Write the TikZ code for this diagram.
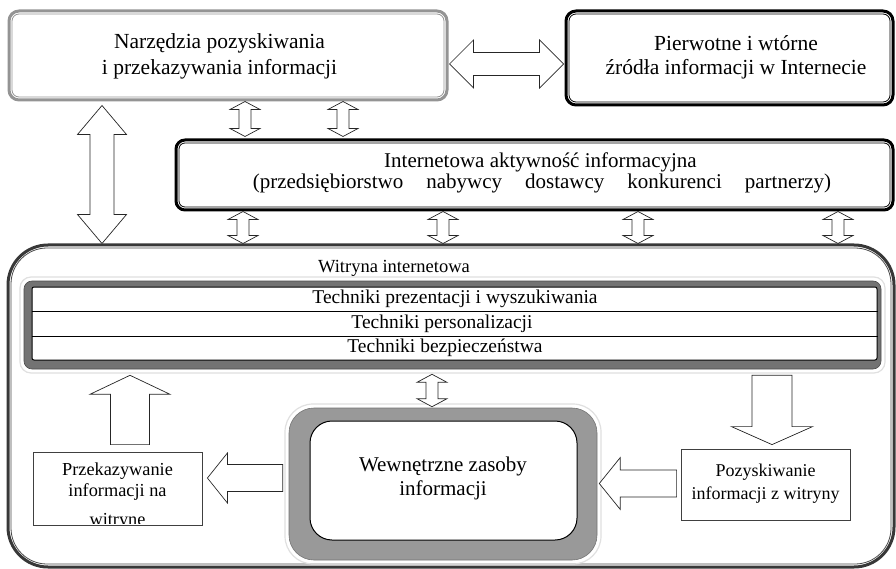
\documentclass[tikz,border=0pt]{standalone}
\usepackage{fontspec}
\setmainfont{Liberation Serif}
\usetikzlibrary{calc}
\newcommand\fs[2]{\fontsize{#1}{#2}\selectfont}
% vertical double block arrow: #1 head half-width, #2 shaft half-width, #3 head length, #4 top tip, #5 bottom tip
\newcommand\vda[5]{\draw[blockarrow] let \p1=#4, \p2=#5 in
  (\x1,\y1) -- (\x1+#1,\y1-#3) -- (\x1+#2,\y1-#3) -- (\x1+#2,\y2+#3) -- (\x1+#1,\y2+#3) -- (\x1,\y2)
  -- (\x1-#1,\y2+#3) -- (\x1-#2,\y2+#3) -- (\x1-#2,\y1-#3) -- (\x1-#1,\y1-#3) -- cycle;}
% horizontal double block arrow: #4 left tip, #5 right tip
\newcommand\hda[5]{\draw[blockarrow] let \p1=#4, \p2=#5 in
  (\x1,\y1) -- (\x1+#3,\y1+#1) -- (\x1+#3,\y1+#2) -- (\x2-#3,\y1+#2) -- (\x2-#3,\y1+#1) -- (\x2,\y1)
  -- (\x2-#3,\y1-#1) -- (\x2-#3,\y1-#2) -- (\x1+#3,\y1-#2) -- (\x1+#3,\y1-#1) -- cycle;}
\begin{document}
\begin{tikzpicture}[x=1pt,y=-1pt,
  blockarrow/.style={draw=black!85,line width=0.7pt,fill=white,line join=miter},
  outerG/.style={draw=black!42,line width=3pt,rounded corners=10pt},
  outerK/.style={draw=black,line width=3pt,rounded corners=10pt},
  outerW/.style={draw=black!78,line width=3pt,rounded corners=40pt},
  thin/.style={line width=0.8pt},
  plainbox/.style={draw=black!75,line width=0.8pt,fill=white},
  txt/.style={align=center,inner sep=0pt}]
\useasboundingbox (0,0) rectangle (896,569);
\fill[white] (0,0) rectangle (896,569);

% ---- top boxes
\node[outerG,minimum width=438pt,minimum height=89pt] (box1) at (228,55.5) {};
\draw[thin,draw=black!42,rounded corners=7pt] ([shift={(4.5,4.5)}]box1.north west) rectangle ([shift={(-4.5,-4.5)}]box1.south east);
\node[txt,font=\fs{21.5}{26.5}] (t1) at (219.5,56.5) {Narzędzia pozyskiwania\\i przekazywania informacji};

\node[outerK,minimum width=327pt,minimum height=94pt] (box2) at (729.5,58) {};
\draw[thin,rounded corners=7pt] ([shift={(4.5,4.5)}]box2.north west) rectangle ([shift={(-4.5,-4.5)}]box2.south east);
\node[txt,font=\fs{21.5}{24}] (t2) at (736,57.5) {Pierwotne i wtórne\\źródła informacji w Internecie};

\node[outerK,rounded corners=9pt,minimum width=717pt,minimum height=70pt] (box3) at (534.5,175) {};
\draw[thin,rounded corners=6pt] ([shift={(4.5,4.5)}]box3.north west) rectangle ([shift={(-4.5,-4.5)}]box3.south east);
\node[txt,font=\fs{21}{20.5}] (t3) at (542,173) {\hspace*{-3pt}Internetowa aktywność informacyjna\\(przedsiębiorstwo\hspace{23pt}nabywcy\hspace{23pt}dostawcy\hspace{23pt}konkurenci\hspace{23pt}partnerzy)};

% ---- big site box
\node[outerW,minimum width=886pt,minimum height=322pt] (box4) at (451,406) {};
\draw[thin,draw=black!70,rounded corners=36pt] ([shift={(4.5,4.5)}]box4.north west) rectangle ([shift={(-4.5,-4.5)}]box4.south east);
\node[txt,font=\fs{18.5}{22}] (t4) at (394,268) {Witryna internetowa};

% techniques frame
\draw[draw=black!12,line width=1.2pt,rounded corners=11pt] (20,277) rectangle (885,373);
\node[fill=black!55,draw=black!70,line width=0.6pt,rounded corners=8pt,minimum width=857pt,minimum height=88pt] (tech) at (452.5,325) {};
\node[draw=black,line width=1pt,fill=white,rounded corners=2pt,minimum width=845pt,minimum height=73pt] (rows) at (454.5,323.5) {};
\coordinate (h1) at (0,311);
\coordinate (h2) at (0,336);
\draw[line width=1pt] (rows.west |- h1) -- (rows.east |- h1);
\draw[line width=1pt] (rows.west |- h2) -- (rows.east |- h2);
\node[txt,font=\fs{19.5}{22}] (r1) at (455,299) {Techniki prezentacji i wyszukiwania};
\node[txt,font=\fs{19.5}{22}] (r2) at (442,323.5) {Techniki personalizacji};
\node[txt,font=\fs{19.5}{22}] (r3) at (445,348) {Techniki bezpieczeństwa};

% internal resources
\draw[draw=black!12,line width=1.2pt,rounded corners=28pt] (285,404) rectangle (601,564);
\node[fill=black!40,draw=black!55,line width=0.6pt,rounded corners=25pt,minimum width=308pt,minimum height=152pt] (wewout) at (443,484) {};
\node[fill=white,draw=black,line width=1pt,rounded corners=22pt,minimum width=267pt,minimum height=119pt] (wew) at (443.5,480.5) {};
\node[txt,font=\fs{21}{23.5}] (t5) at (443,478.5) {Wewnętrzne zasoby\\informacji};

% side boxes
\node[plainbox,minimum width=169pt,minimum height=73pt] (przek) at (117.5,488.5) {};
\begin{scope}
\clip ([shift={(1,1)}]przek.north west) rectangle ([shift={(-1,-2)}]przek.south east);
\node[txt,font=\fs{18.3}{20.5},anchor=north] (t6) at (117.5,463) {Przekazywanie\\informacji na\\[9pt]witrynę};
\end{scope}
\node[plainbox,minimum width=169pt,minimum height=71pt] (pozysk) at (765.5,484.5) {};
\node[txt,font=\fs{18}{23}] (t7) at (765.5,483.5) {Pozyskiwanie\\informacji z witryny};

% ---- connectors (block arrows)
\coordinate (hy) at (0,64);
\hda{24pt}{11.5pt}{24pt}{([xshift=1pt]box1.east |- hy)}{([xshift=-1pt]box2.west |- hy)}

\coordinate (bx) at (102,0);
\vda{24.5pt}{12pt}{29pt}{([yshift=-4pt]box1.south -| bx)}{(box4.north -| bx)}

\coordinate (sa) at (245,0);
\coordinate (sb) at (343,0);
\vda{15pt}{6pt}{8pt}{(box1.south -| sa)}{([yshift=2pt]box3.north -| sa)}
\vda{15pt}{6pt}{8pt}{(box1.south -| sb)}{([yshift=2pt]box3.north -| sb)}
\coordinate (sc) at (243,0);
\coordinate (sd) at (443,0);
\coordinate (se) at (638,0);
\coordinate (sf) at (838,0);
\vda{15pt}{6pt}{8pt}{(box3.south -| sc)}{(box4.north -| sc)}
\vda{15pt}{6pt}{8pt}{(box3.south -| sd)}{(box4.north -| sd)}
\vda{15pt}{6pt}{8pt}{(box3.south -| se)}{(box4.north -| se)}
\vda{15pt}{6pt}{8pt}{(box3.south -| sf)}{(box4.north -| sf)}
\coordinate (sm) at (432,0);
\vda{15pt}{6pt}{8pt}{([yshift=-5pt]tech.south -| sm)}{([yshift=1pt]wewout.north -| sm)}

% up arrow: przek -> techniques
\coordinate (ux) at (130,0);
\draw[blockarrow] let \p1=([yshift=7pt]przek.north -| ux), \p2=([yshift=-6pt]tech.south -| ux) in
  (\x1-19.5pt,\y1) -- (\x1-19.5pt,\y2-19pt) -- (\x1-40pt,\y2-19pt) -- (\x2,\y2)
  -- (\x1+40pt,\y2-19pt) -- (\x1+19.5pt,\y2-19pt) -- (\x1+19.5pt,\y1) -- cycle;

% down arrow: techniques -> pozysk
\coordinate (dx) at (772,0);
\draw[blockarrow] let \p1=([yshift=-6pt]tech.south -| dx), \p2=([yshift=4pt]pozysk.north -| dx) in
  (\x1-20pt,\y1) -- (\x1-20pt,\y2+18pt) -- (\x1-40.5pt,\y2+18pt) -- (\x2,\y2)
  -- (\x1+40.5pt,\y2+18pt) -- (\x1+20pt,\y2+18pt) -- (\x1+20pt,\y1) -- cycle;

% left arrow: wew -> przek
\coordinate (l1) at (0,478);
\draw[blockarrow] let \p1=([xshift=-6pt]wewout.west |- l1), \p2=([xshift=5pt]przek.east |- l1) in
  (\x1,\y1+13.5pt) -- (\x2+20pt,\y1+13.5pt) -- (\x2+20pt,\y1+25pt) -- (\x2,\y1)
  -- (\x2+20pt,\y1-25pt) -- (\x2+20pt,\y1-13.5pt) -- (\x1,\y1-13.5pt) -- cycle;

% left arrow: pozysk -> wew
\coordinate (l2) at (0,483.5);
\draw[blockarrow] let \p1=([xshift=-4pt]pozysk.west |- l2), \p2=([xshift=2pt]wewout.east |- l2) in
  (\x1,\y1+13.5pt) -- (\x2+21pt,\y1+13.5pt) -- (\x2+21pt,\y1+26pt) -- (\x2,\y1)
  -- (\x2+21pt,\y1-26pt) -- (\x2+21pt,\y1-13.5pt) -- (\x1,\y1-13.5pt) -- cycle;
\end{tikzpicture}
\end{document}
